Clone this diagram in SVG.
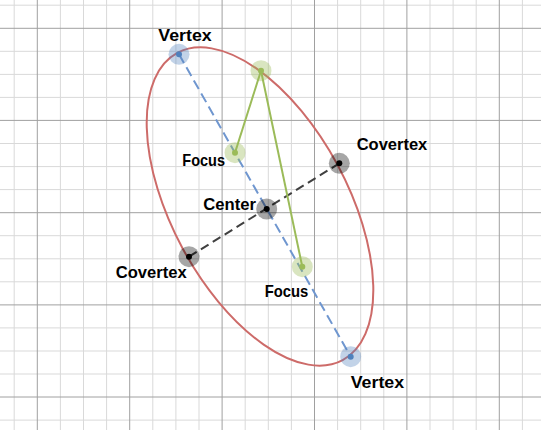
<svg xmlns="http://www.w3.org/2000/svg" width="541" height="430" viewBox="0 0 541 430">
<style>
.minor{stroke:#d9d9d9;stroke-width:1}
.major{stroke:#a0a0a0;stroke-width:1}
.lbl{font-family:"Liberation Sans",Arial,sans-serif;font-weight:bold;font-size:17px;fill:#000}
.hb{fill:#4f81bd;fill-opacity:0.35}
.db{fill:#4f81bd}
.hg{fill:#9bbb59;fill-opacity:0.38}
.dg{fill:#9bbb59}
.hk{fill:#000;fill-opacity:0.35}
.dk{fill:#000}
</style>
<rect width="541" height="430" fill="#fff"/>
<g id="grid">
<g class="minor">
<line x1="14.2" y1="0" x2="14.2" y2="430"/>
<line x1="60.4" y1="0" x2="60.4" y2="430"/>
<line x1="83.5" y1="0" x2="83.5" y2="430"/>
<line x1="106.6" y1="0" x2="106.6" y2="430"/>
<line x1="152.8" y1="0" x2="152.8" y2="430"/>
<line x1="175.9" y1="0" x2="175.9" y2="430"/>
<line x1="199.0" y1="0" x2="199.0" y2="430"/>
<line x1="245.2" y1="0" x2="245.2" y2="430"/>
<line x1="268.3" y1="0" x2="268.3" y2="430"/>
<line x1="291.4" y1="0" x2="291.4" y2="430"/>
<line x1="337.6" y1="0" x2="337.6" y2="430"/>
<line x1="360.7" y1="0" x2="360.7" y2="430"/>
<line x1="383.8" y1="0" x2="383.8" y2="430"/>
<line x1="430.0" y1="0" x2="430.0" y2="430"/>
<line x1="453.1" y1="0" x2="453.1" y2="430"/>
<line x1="476.2" y1="0" x2="476.2" y2="430"/>
<line x1="522.4" y1="0" x2="522.4" y2="430"/>
<line x1="0" y1="5.2" x2="541" y2="5.2"/>
<line x1="0" y1="51.3" x2="541" y2="51.3"/>
<line x1="0" y1="74.4" x2="541" y2="74.4"/>
<line x1="0" y1="97.4" x2="541" y2="97.4"/>
<line x1="0" y1="143.5" x2="541" y2="143.5"/>
<line x1="0" y1="166.6" x2="541" y2="166.6"/>
<line x1="0" y1="189.6" x2="541" y2="189.6"/>
<line x1="0" y1="235.7" x2="541" y2="235.7"/>
<line x1="0" y1="258.8" x2="541" y2="258.8"/>
<line x1="0" y1="281.8" x2="541" y2="281.8"/>
<line x1="0" y1="327.9" x2="541" y2="327.9"/>
<line x1="0" y1="351.0" x2="541" y2="351.0"/>
<line x1="0" y1="374.0" x2="541" y2="374.0"/>
<line x1="0" y1="420.1" x2="541" y2="420.1"/>
</g>
<g class="major">
<line x1="37.3" y1="0" x2="37.3" y2="430"/>
<line x1="129.7" y1="0" x2="129.7" y2="430"/>
<line x1="222.1" y1="0" x2="222.1" y2="430"/>
<line x1="314.5" y1="0" x2="314.5" y2="430"/>
<line x1="406.9" y1="0" x2="406.9" y2="430"/>
<line x1="499.3" y1="0" x2="499.3" y2="430"/>
<line x1="0" y1="28.3" x2="541" y2="28.3"/>
<line x1="0" y1="120.4" x2="541" y2="120.4"/>
<line x1="0" y1="212.7" x2="541" y2="212.7"/>
<line x1="0" y1="304.9" x2="541" y2="304.9"/>
<line x1="0" y1="397.0" x2="541" y2="397.0"/>
</g>
</g>
<g id="ellipse">
<ellipse cx="260" cy="206.5" rx="174.4" ry="88" transform="rotate(61.7 260 206.5)" fill="none" stroke="#cd6b69" stroke-width="2"/>
</g>
<g id="connectors" fill="none">
<line x1="179" y1="54.3" x2="350.7" y2="356.7" stroke="#6f96cf" stroke-width="2" stroke-dasharray="10 5"/>
<line x1="189" y1="256.7" x2="339.3" y2="163.3" stroke="#404040" stroke-width="2" stroke-dasharray="9 5"/>
<line x1="261" y1="70.7" x2="235" y2="152.7" stroke="#9bbb59" stroke-width="2"/>
<line x1="261" y1="70.7" x2="302.3" y2="266.7" stroke="#9bbb59" stroke-width="2"/>
</g>
<g id="vertex-top">
<circle cx="179" cy="54.3" r="10.5" class="hb"/><circle cx="179" cy="54.3" r="3" class="db"/>
<text x="158.3" y="40.7" class="lbl" textLength="53.4" lengthAdjust="spacingAndGlyphs">Vertex</text>
</g>
<g id="point-top">
<circle cx="261" cy="70.7" r="10.5" class="hg"/><circle cx="261" cy="70.7" r="3" class="dg"/>
</g>
<g id="focus-upper">
<circle cx="235" cy="152.7" r="10.5" class="hg"/><circle cx="235" cy="152.7" r="3" class="dg"/>
<text x="182.3" y="166" class="lbl" textLength="42.7" lengthAdjust="spacingAndGlyphs">Focus</text>
</g>
<g id="covertex-right">
<circle cx="339.3" cy="163.3" r="10.5" class="hk"/><circle cx="339.3" cy="163.3" r="3" class="dk"/>
<text x="356.7" y="150" class="lbl" textLength="70.6" lengthAdjust="spacingAndGlyphs">Covertex</text>
</g>
<g id="center">
<circle cx="266.7" cy="209" r="10.5" class="hk"/><circle cx="266.7" cy="209" r="3" class="dk"/>
<text x="203.3" y="210" class="lbl" textLength="52.7" lengthAdjust="spacingAndGlyphs">Center</text>
</g>
<g id="covertex-left">
<circle cx="189" cy="256.7" r="10.5" class="hk"/><circle cx="189" cy="256.7" r="3" class="dk"/>
<text x="115.7" y="278.3" class="lbl" textLength="71" lengthAdjust="spacingAndGlyphs">Covertex</text>
</g>
<g id="focus-lower">
<circle cx="302.3" cy="266.7" r="10.5" class="hg"/><circle cx="302.3" cy="266.7" r="3" class="dg"/>
<text x="264.7" y="296.7" class="lbl" textLength="43.6" lengthAdjust="spacingAndGlyphs">Focus</text>
</g>
<g id="vertex-bottom">
<circle cx="350.7" cy="356.7" r="10.5" class="hb"/><circle cx="350.7" cy="356.7" r="3" class="db"/>
<text x="350.7" y="388" class="lbl" textLength="53.4" lengthAdjust="spacingAndGlyphs">Vertex</text>
</g>
</svg>
